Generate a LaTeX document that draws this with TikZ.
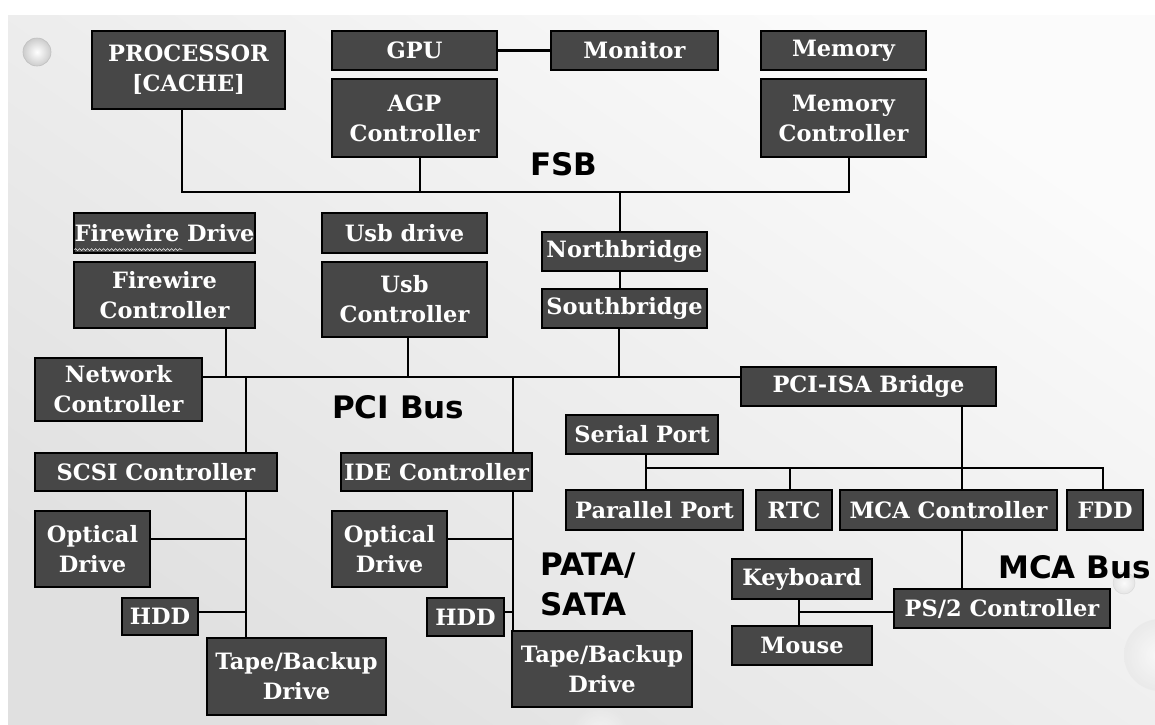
\documentclass[tikz,border=0pt]{standalone}
\usepackage{fontspec}
\usetikzlibrary{decorations.pathmorphing}
\newfontfamily\boxfont{DejaVu Serif}
\newfontfamily\busfont{DejaVu Sans}
\definecolor{boxgray}{HTML}{474747}
\begin{document}
\begin{tikzpicture}[x=1pt,y=-1pt,
  box/.style={draw=black, line width=1.2pt, fill=boxgray, text=white,
    font=\boxfont\bfseries\fontsize{22.5}{30}\selectfont, align=center, inner sep=0pt},
  wire/.style={line width=2.8pt, draw=black},
  buslabel/.style={font=\busfont\bfseries\fontsize{31}{40}\selectfont, text=black,
    inner sep=0pt, anchor=base west, align=left},
  deco/.style={inner color=white, outer color=gray!40}]
\useasboundingbox (0,0) rectangle (1155,724);
\fill[white] (0,0) rectangle (1155,724);
\shade[top color=gray!3, bottom color=gray!24, shading angle=-35] (8,15) rectangle (1155,724);
% decorative spheres
\shade[deco] (37,52) circle (14);
\draw[gray!50, line width=0.6pt] (37,52) circle (14);
\shade[inner color=white, outer color=gray!25, opacity=0.7] (1124,583) circle (11);
\draw[gray!35, line width=0.5pt, opacity=0.7] (1124,583) circle (11);
\begin{scope}
\clip (8,15) rectangle (1155,724);
\shade[inner color=white, outer color=gray!20, opacity=0.6] (1160,655) circle (36);
\shade[inner color=white, outer color=gray!20, opacity=0.6] (600,735) circle (30);
\end{scope}

% top row
\node[box, minimum width=193pt, minimum height=78pt] (proc) at (188.5,70) {PROCESSOR\\{[CACHE]}};
\node[box, minimum width=165pt, minimum height=39pt] (gpu) at (414.5,50.5) {GPU};
\node[box, minimum width=167pt, minimum height=39pt] (mon) at (634.5,50.5) {Monitor};
\node[box, minimum width=165pt, minimum height=78pt] (agp) at (414.5,118) {AGP\\Controller};
\node[box, minimum width=165pt, minimum height=39pt] (mem) at (843.5,50.5) {Memory};
\node[box, minimum width=165pt, minimum height=78pt] (memc) at (843.5,118) {Memory\\Controller};

% second row
\node[box, minimum width=181pt, minimum height=40pt] (fwd) at (164.5,233) {Firewire Drive};
\node[box, minimum width=181pt, minimum height=66pt] (fwc) at (164.5,295) {Firewire\\Controller};
\node[box, minimum width=165pt, minimum height=40pt] (usbd) at (404.5,233) {Usb drive};
\node[box, minimum width=165pt, minimum height=75pt] (usbc) at (404.5,299.5) {Usb\\Controller};
\node[box, minimum width=165pt, minimum height=39pt] (nb) at (624.5,251.5) {Northbridge};
\node[box, minimum width=165pt, minimum height=39pt] (sb) at (624.5,308.5) {Southbridge};
\node[box, minimum width=167pt, minimum height=63pt] (net) at (118.5,389.5) {Network\\Controller};
\node[box, minimum width=255pt, minimum height=39pt] (pciisa) at (868.5,386.5) {PCI-ISA Bridge};

% storage
\node[box, minimum width=242pt, minimum height=38pt] (scsi) at (156,472) {SCSI Controller};
\node[box, minimum width=191pt, minimum height=38pt] (ide) at (436.5,472) {IDE Controller};
\node[box, minimum width=115pt, minimum height=76pt] (opta) at (92.5,549) {Optical\\Drive};
\node[box, minimum width=76pt, minimum height=37pt] (hdda) at (160,616.5) {HDD};
\node[box, minimum width=179pt, minimum height=77pt] (tapea) at (296.5,676.5) {Tape/Backup\\Drive};
\node[box, minimum width=115pt, minimum height=76pt] (optb) at (389.5,549) {Optical\\Drive};
\node[box, minimum width=77pt, minimum height=38pt] (hddb) at (465.5,617) {HDD};
\node[box, minimum width=180pt, minimum height=76pt] (tapeb) at (602,669) {Tape/Backup\\Drive};

% ISA side
\node[box, minimum width=152pt, minimum height=39pt] (serial) at (642,434.5) {Serial Port};
\node[box, minimum width=177pt, minimum height=40pt] (par) at (654.5,510) {Parallel Port};
\node[box, minimum width=76pt, minimum height=40pt] (rtc) at (794,510) {RTC};
\node[box, minimum width=217pt, minimum height=40pt] (mcac) at (948.5,510) {MCA Controller};
\node[box, minimum width=76pt, minimum height=40pt] (fdd) at (1105,510) {FDD};
\node[box, minimum width=140pt, minimum height=40pt] (kbd) at (802,579) {Keyboard};
\node[box, minimum width=140pt, minimum height=39pt] (mouse) at (802,645.5) {Mouse};
\node[box, minimum width=216pt, minimum height=39pt] (ps2) at (1002,608.5) {PS/2 Controller};

% spell-check squiggle under "Firewire"
\draw[white!85!gray, line width=0.6pt, decorate, decoration={snake, amplitude=1pt, segment length=4pt}]
  ([xshift=1pt,yshift=4pt]fwd.south west) -- ([xshift=109pt,yshift=4pt]fwd.south west);

% bus junction coordinates
\coordinate (fsbL) at (182,192);
\coordinate (fsbR) at (849,192);
\coordinate (agpx) at (420,192);
\coordinate (nbx) at (620,192);
\coordinate (pciL) at (202,377);
\coordinate (fwx) at (226,377);
\coordinate (usbx) at (408,377);
\coordinate (sbx) at (619,377);
\coordinate (scsix) at (246,377);
\coordinate (idex) at (513,377);
\coordinate (isax) at (962,406);
\coordinate (serL) at (646,468);
\coordinate (serR) at (1103,468);
\coordinate (rtcx) at (790,468);
\coordinate (km) at (799,612);

% FSB
\draw[wire] (proc.south -| fsbL) -- (fsbL) -- (fsbR) -- (memc.south -| fsbR);
\draw[wire] (agp.south -| agpx) -- (agpx);
\draw[wire] (nb.north -| nbx) -- (nbx);
\draw[wire] (gpu.east) -- (mon.west);
\draw[wire] (nb.south -| nbx) -- (sb.north -| nbx);

% PCI bus
\draw[wire] (pciL) -- (pciisa.west |- pciL);
\draw[wire] (sb.south -| sbx) -- (sbx);
\draw[wire] (fwc.south -| fwx) -- (fwx);
\draw[wire] (usbc.south -| usbx) -- (usbx);
\draw[wire] (scsix) -- (scsi.north -| scsix);
\draw[wire] (scsi.south -| scsix) -- (tapea.north -| scsix);
\draw[wire] ([yshift=10pt]opta.east) -- ([yshift=10pt]opta.east -| scsix);
\draw[wire] ([yshift=4.5pt]hdda.east) -- ([yshift=4.5pt]hdda.east -| scsix);
\draw[wire] (idex) -- (ide.north -| idex);
\draw[wire] (ide.south -| idex) -- (tapeb.north -| idex);
\draw[wire] ([yshift=10pt]optb.east) -- ([yshift=10pt]optb.east -| idex);
\draw[wire] ([yshift=5pt]hddb.east) -- ([yshift=5pt]hddb.east -| idex);

% ISA side
\draw[wire] (isax) -- (mcac.north -| isax);
\draw[wire] (mcac.south -| isax) -- (ps2.north -| isax);
\draw[wire] (serial.south -| serL) -- (par.north -| serL);
\draw[wire] (serL) -- (serR) -- (fdd.north -| serR);
\draw[wire] (rtcx) -- (rtc.north -| rtcx);
\draw[wire] (kbd.south -| km) -- (mouse.north -| km);
\draw[wire] (km) -- (ps2.west |- km);

% bus labels
\node[buslabel] (fsb) at (530,175) {FSB};
\node[buslabel] (pcibus) at (332,418) {PCI Bus};
\node[buslabel] (pata) at (540,615) {PATA/\\SATA};
\node[buslabel] (mcabus) at (998,578) {MCA Bus};
\end{tikzpicture}
\end{document}
